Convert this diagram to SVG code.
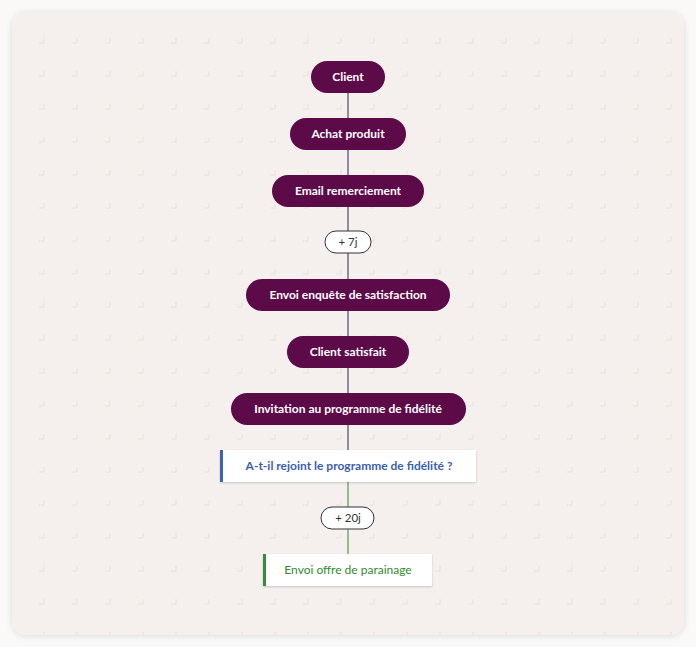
<svg xmlns="http://www.w3.org/2000/svg" width="696" height="647" viewBox="0 0 696 647">
<defs>
<pattern id="grid" x="11" y="10" width="33" height="33" patternUnits="userSpaceOnUse">
<path d="M33 28v10M28 33h10M33 -5v5M-5 33h5" stroke="#ecdfd9" stroke-width="1" fill="none"/>
<path d="M0 28v10M28 0h10" stroke="#ecdfd9" stroke-width="1" fill="none"/>
</pattern>
<filter id="sh" x="-10%" y="-10%" width="120%" height="120%"><feDropShadow dx="0" dy="1" stdDeviation="3" flood-color="#000" flood-opacity="0.12"/></filter>
<filter id="sh2" x="-10%" y="-30%" width="120%" height="160%"><feDropShadow dx="0" dy="1" stdDeviation="1.2" flood-color="#000" flood-opacity="0.18"/></filter>
</defs>
<style>
.p{fill:#5c0a48}
.pt{fill:#fff;font-family:Lato,"Open Sans",sans-serif;font-weight:bold;font-size:12px;text-anchor:middle}
.d{fill:#fff;stroke:#333;stroke-width:1}
.dt{fill:#333;font-family:Lato,"Open Sans",sans-serif;font-size:11.5px;text-anchor:middle}
</style>
<rect width="696" height="647" fill="#fbf9f8"/>
<rect x="12" y="12" width="672" height="623" rx="14" fill="#f5f0ed" filter="url(#sh)"/>
<rect x="12" y="12" width="672" height="623" rx="14" fill="url(#grid)"/>
<g id="connectors">
<line x1="348" y1="77" x2="348" y2="470" stroke="#2b2b4a" stroke-width="1"/>
<line x1="348" y1="482" x2="348" y2="560" stroke="#2e8b2e" stroke-width="1"/>
</g>
<g id="n1"><rect class="p" x="311" y="61" width="74" height="32" rx="16"/><text class="pt" x="348" y="81">Client</text></g>
<g id="n2"><rect class="p" x="290" y="118" width="116" height="32" rx="16"/><text class="pt" x="348" y="138">Achat produit</text></g>
<g id="n3"><rect class="p" x="272" y="175" width="152" height="32" rx="16"/><text class="pt" x="348" y="195">Email remerciement</text></g>
<g id="d1"><rect class="d" x="325" y="231" width="46" height="22" rx="11"/><text class="dt" x="348" y="246">+ 7j</text></g>
<g id="n4"><rect class="p" x="246" y="279" width="204" height="32" rx="16"/><text class="pt" x="348" y="299">Envoi enquête de satisfaction</text></g>
<g id="n5"><rect class="p" x="287" y="336" width="122" height="32" rx="16"/><text class="pt" x="348" y="356">Client satisfait</text></g>
<g id="n6"><rect class="p" x="231" y="393" width="235" height="32" rx="16"/><text class="pt" x="348" y="413">Invitation au programme de fidélité</text></g>
<g id="q"><rect x="220" y="450" width="256" height="32" fill="#fff" filter="url(#sh2)"/><rect x="220" y="450" width="3" height="32" fill="#3a62b8"/><text x="349" y="470" font-family="Lato,'Open Sans',sans-serif" font-weight="bold" font-size="12" fill="#3a5fb0" text-anchor="middle">A-t-il rejoint le programme de fidélité ?</text></g>
<g id="d2"><rect class="d" x="321" y="507" width="53" height="22" rx="11"/><text class="dt" x="348" y="522">+ 20j</text></g>
<g id="a"><rect x="263" y="554" width="169" height="32" fill="#fff" filter="url(#sh2)"/><rect x="263" y="554" width="3" height="32" fill="#3a8a3a"/><text x="348" y="574" font-family="Lato,'Open Sans',sans-serif" font-size="12" fill="#2e8b2e" text-anchor="middle">Envoi offre de parainage</text></g>
</svg>
